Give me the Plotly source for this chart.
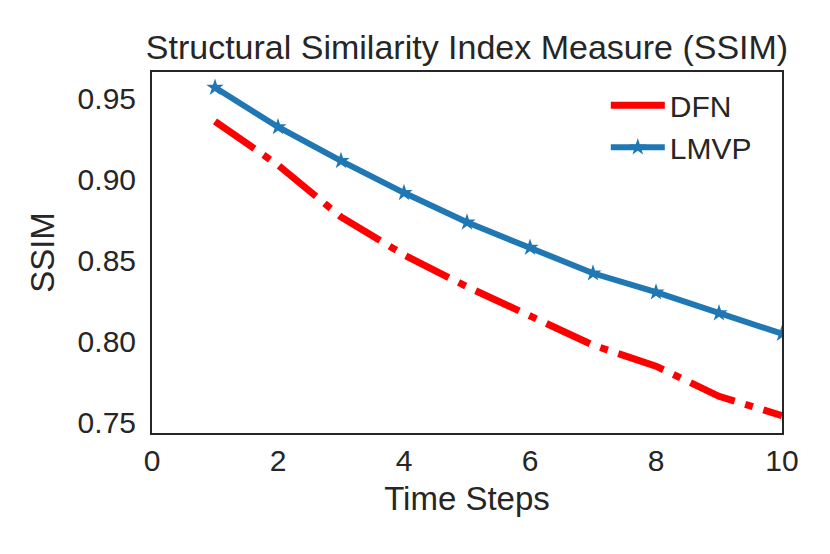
import plotly.graph_objects as go

# data
steps = [1, 2, 3, 4, 5, 6, 7, 8, 9, 10]
dfn_ssim = [0.936, 0.909, 0.877, 0.8536, 0.834, 0.8156, 0.798, 0.785, 0.7664, 0.7545]
lmvp_ssim = [0.9568, 0.9325, 0.9116, 0.8919, 0.8737, 0.8581, 0.8423, 0.8306, 0.8177, 0.805]
y_ticks = [0.75, 0.80, 0.85, 0.90, 0.95]
x_ticks = [0, 2, 4, 6, 8, 10]

FONT = "Liberation Sans, Arial, sans-serif"
TEXT = "#262626"
RED = "#ff0000"
BLUE = "#1f77b4"

fig = go.Figure()

# data lines (the page body adds an 8px offset, margins below allow for it)
fig.add_trace(go.Scatter(
    x=steps, y=dfn_ssim, name="DFN", mode="lines", showlegend=False,
    line=dict(color=RED, width=7, dash="48px,11px,8px,11px"),
))
fig.add_trace(go.Scatter(
    x=steps, y=lmvp_ssim, name="LMVP", mode="lines+markers", showlegend=False,
    line=dict(color=BLUE, width=6),
    marker=dict(symbol="star", size=13, color=BLUE),
))
# legend entries only
fig.add_trace(go.Scatter(x=[None], y=[None], name="DFN", mode="lines",
                         line=dict(color=RED, width=7)))
fig.add_trace(go.Scatter(x=[None], y=[None], name="LMVP", mode="lines+markers",
                         line=dict(color=BLUE, width=6),
                         marker=dict(symbol="star", size=13, color=BLUE)))

fig.update_layout(
    width=830, height=554,
    margin=dict(l=144, r=56, t=64, b=129, autoexpand=False),
    paper_bgcolor="white", plot_bgcolor="white",
    font=dict(family=FONT, color=TEXT, size=30),
    title=dict(text="Structural Similarity Index Measure (SSIM)",
               x=(144 + 315) / 830, xanchor="center", yref="container",
               y=1 - 39 / 554, yanchor="middle",
               font=dict(size=34, color=TEXT)),
    legend=dict(x=0.96, y=0.98, xanchor="right", yanchor="top",
                bgcolor="rgba(0,0,0,0)", font=dict(size=30, color=TEXT),
                itemwidth=54),
    showlegend=True,
)

fig.update_xaxes(
    range=[0, 10], tickvals=x_ticks, showgrid=False, zeroline=False,
    showline=True, linecolor=TEXT, linewidth=2, mirror=True,
    ticks="", tickfont=dict(size=30), ticklabelstandoff=0,
    title=dict(text="Time Steps", font=dict(size=33), standoff=11),
)
fig.update_yaxes(
    range=[0.7438, 0.9664], tickvals=y_ticks, tickformat=".2f",
    showgrid=False, zeroline=False,
    showline=True, linecolor=TEXT, linewidth=2, mirror=True,
    ticks="", tickfont=dict(size=30), ticklabelstandoff=8,
    title=dict(text="SSIM", font=dict(size=33), standoff=13),
)

fig.write_html("out.html")
